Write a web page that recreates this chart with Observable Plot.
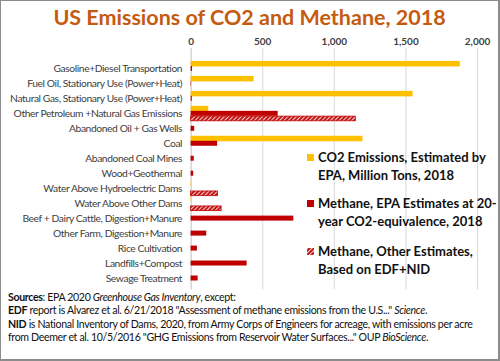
<!DOCTYPE html>
<html><head><meta charset="utf-8">
<script src="https://cdn.jsdelivr.net/npm/d3@7"></script>
<script src="https://cdn.jsdelivr.net/npm/@observablehq/plot@0.6"></script>
<style>
html,body{margin:0;padding:0;background:#fff;}
#wrap{position:relative;width:497px;height:358px;border:1px solid #8c8c8c;border-right-width:2px;border-bottom-width:2px;overflow:hidden;font-family:Lato,"Open Sans",sans-serif;background:#fff;}
#title{position:absolute;left:0;top:3px;width:100%;text-align:center;font-weight:bold;font-size:21.5px;line-height:26px;color:#C55A11;}
#chart{position:absolute;left:0;top:29px;}
.li{position:absolute;left:317px;font-size:13px;letter-spacing:0;line-height:17.5px;font-weight:bold;color:#111;white-space:nowrap;}
.sw{position:absolute;left:-11px;top:5px;width:7px;height:7px;}
#caption{position:absolute;left:7px;top:290px;font-size:10.6px;letter-spacing:-0.35px;line-height:13.3px;color:#111;white-space:nowrap;}
.em [aria-label^="x-axis"] text{font-weight:bold;font-size:10px;}
.em [aria-label^="y-axis"] text{letter-spacing:-0.4px;}
</style>
</head><body>
<div id="wrap">
  <div id="title">US Emissions of CO2 and Methane, 2018</div>
  <div id="chart"></div>
  <div class="li" style="top:148px"><span class="sw" style="background:#FFC000"></span>CO2 Emissions, Estimated by<br>EPA, Million Tons, 2018</div>
  <div class="li" style="top:194px"><span class="sw" style="background:#C00000"></span>Methane, EPA Estimates at 20-<br>year CO2-equivalence, 2018</div>
  <div class="li" style="top:242px"><svg class="sw" viewBox="0 0 7 7"><defs><pattern id="hatchL" patternUnits="userSpaceOnUse" width="3" height="3" patternTransform="rotate(45)"><rect width="3" height="3" fill="#C00000"/><line x1="0.7" y1="0" x2="0.7" y2="3" stroke="#fff" stroke-width="1"/></pattern></defs><rect width="7" height="7" fill="url(#hatchL)"/></svg>Methane, Other Estimates,<br>Based on EDF+NID</div>
  <div id="caption"><b>Sources</b>: EPA 2020 <i>Greenhouse Gas Inventory</i>, except:<br><b>EDF</b> report is Alvarez et al. 6/21/2018 "Assessment of methane emissions from the U.S..." <i>Science</i>.<br><b>NID</b> is National Inventory of Dams, 2020, from Army Corps of Engineers for acreage, with emissions per acre<br>from Deemer et al. 10/5/2016 "GHG Emissions from Reservoir Water Surfaces..." OUP <i>BioScience</i>.</div>
</div>
<script>
const categories = [
  "Gasoline+Diesel Transportation",
  "Fuel Oil, Stationary Use (Power+Heat)",
  "Natural Gas, Stationary Use (Power+Heat)",
  "Other Petroleum +Natural Gas Emissions",
  "Abandoned Oil + Gas Wells",
  "Coal",
  "Abandoned Coal Mines",
  "Wood+Geothermal",
  "Water Above Hydroelectric Dams",
  "Water Above Other Dams",
  "Beef + Dairy Cattle, Digestion+Manure",
  "Other Farm, Digestion+Manure",
  "Rice Cultivation",
  "Landfills+Compost",
  "Sewage Treatment"
];
const co2 =          [1880, 440, 1550, 123, 0, 1200, 0, 0, 3, 3, 0, 0, 0, 0, 0];
const methaneEPA =   [10, 3, 8, 608, 25, 185, 22, 18, 0, 0, 717, 109, 44, 391, 49];
const methaneOther = [0, 0, 0, 1150, 0, 0, 0, 0, 187, 213, 0, 0, 0, 0, 0];
const xTicks = [0, 500, 1000, 1500, 2000];

const rows = categories.map((c, i) => ({cat: c, co2: co2[i], epa: methaneEPA[i], other: methaneOther[i]}));

const yRange = [27.25, 259.75];
const bw = (yRange[1] - yRange[0]) / categories.length;

const plot = Plot.plot({
  width: 498,
  height: 262,
  marginLeft: 190,
  marginRight: 21,
  marginTop: 18,
  marginBottom: 2,
  className: "em",
  style: {fontFamily: "Lato, sans-serif", fontSize: "10.3px", color: "#404040", background: "#fff"},
  x: {domain: [0, 2000], axis: "top", ticks: xTicks, tickFormat: d3.format(","), tickSize: 0, tickPadding: 3, label: null},
  y: {domain: categories, range: yRange, padding: 0, tickSize: 0, tickPadding: 9, label: null},
  marks: [
    Plot.ruleX(xTicks.slice(1), {stroke: "#d9d9d9"}),
    Plot.ruleX([0], {stroke: "#bfbfbf"}),
    Plot.barX(rows.filter(d => d.co2 > 0), {y: "cat", x: "co2", fill: "#FFC000", insetBottom: bw - 6}),
    Plot.barX(rows.filter(d => d.epa > 0), {y: "cat", x: "epa", fill: "#C00000", insetTop: 5, insetBottom: bw - 10.5}),
    Plot.barX(rows.filter(d => d.other > 0), {y: "cat", x: "other", fill: "url(#hatch)", stroke: "#C00000", strokeWidth: 0.8, insetTop: 10.3})
  ]
});

const svg = d3.select(plot);
const defs = svg.insert("defs", ":first-child");
const p = defs.append("pattern").attr("id", "hatch").attr("patternUnits", "userSpaceOnUse")
  .attr("width", 3).attr("height", 3).attr("patternTransform", "rotate(45)");
p.append("rect").attr("width", 3).attr("height", 3).attr("fill", "#C00000");
p.append("line").attr("x1", 0.7).attr("y1", 0).attr("x2", 0.7).attr("y2", 3).attr("stroke", "#fff").attr("stroke-width", 1);

document.getElementById("chart").appendChild(plot);
</script>
</body></html>
